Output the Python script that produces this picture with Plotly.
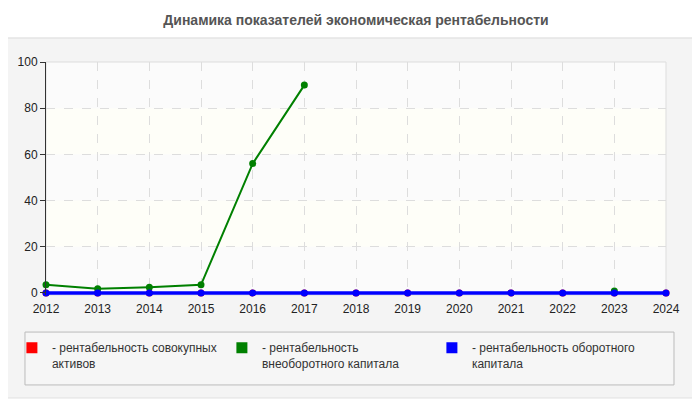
import plotly.graph_objects as go

years = [2012, 2013, 2014, 2015, 2016, 2017, 2018, 2019, 2020, 2021, 2022, 2023, 2024]
total_assets = [0, 0, 0, 0, 0, 0, 0, 0, 0, 0, 0, 0, 0]
noncurrent_capital = [3.5, 1.8, 2.5, 3.5, 56, 90, None, None, None, None, None, 0.8, None]
current_capital = [0, 0, 0, 0, 0, 0, 0, 0, 0, 0, 0, 0, 0]

names = ["- рентабельность совокупных<br>активов",
         "- рентабельность<br>внеоборотного капитала",
         "- рентабельность оборотного<br>капитала"]
colors = ["#ff0000", "#008000", "#0000ff"]
y_ticks = [0, 20, 40, 60, 80, 100]

fig = go.Figure()
series = [total_assets, noncurrent_capital, current_capital]
widths = [2, 2, 3.5]
for vals, col, w in zip(series, colors, widths):
    fig.add_trace(go.Scatter(x=years, y=vals, mode="lines+markers",
                             line=dict(color=col, width=w),
                             marker=dict(color=col, size=7),
                             showlegend=False, connectgaps=False, cliponaxis=False))
for nm, col in zip(names, colors):
    fig.add_trace(go.Scatter(x=[None], y=[None], mode="markers", name=nm,
                             marker=dict(color=col, size=11, symbol="square")))

shapes = [
    dict(type="rect", xref="paper", yref="paper", x0=-0.071, x1=1.052, y0=-0.442, y1=1.103,
         fillcolor="#f4f4f4", line=dict(color="#e0e0e0", width=1), layer="below"),
    dict(type="rect", xref="paper", yref="paper", x0=-0.0339, x1=1.0129, y0=-0.386, y1=-0.159,
         fillcolor="#f6f6f6", line=dict(color="#bbbbbb", width=1), layer="below"),
    dict(type="rect", xref="paper", yref="paper", x0=0, x1=1, y0=0, y1=1,
         fillcolor="#fbfbfb", line=dict(width=0), layer="below"),
]
for lo, hi in zip(y_ticks[1::2], y_ticks[2::2]):
    shapes.append(dict(type="rect", xref="paper", yref="y", x0=0, x1=1, y0=lo, y1=hi,
                       fillcolor="#fefef8", line=dict(width=0), layer="below"))
shapes.append(dict(type="rect", xref="paper", yref="paper", x0=0, x1=1, y0=0, y1=1,
                   fillcolor="rgba(0,0,0,0)", line=dict(color="#dddddd", width=1), layer="below"))
shapes.append(dict(type="line", xref="paper", yref="paper", x0=-0.074, x1=1.054, y0=1.103, y1=1.103,
                   line=dict(color="#e6e6e6", width=1)))

fig.update_layout(
    width=700, height=400,
    margin=dict(l=38, r=42, t=54, b=113, autoexpand=False),
    paper_bgcolor="white",
    plot_bgcolor="#fbfbfb",
    font=dict(family="Liberation Sans, Arial, sans-serif", size=12, color="#333333"),
    title=dict(text="<b>Динамика показателей экономическая рентабельности</b>",
               x=0.5, xref="paper", xanchor="center", y=0.97, yanchor="middle",
               font=dict(size=14, color="#555555")),
    shapes=shapes,
    xaxis=dict(range=[2012, 2024], tickmode="array", tickvals=years,
               showgrid=True, gridcolor="#dddddd", griddash="dash", gridwidth=1,
               zeroline=False, showline=False, ticks="outside", ticklen=3,
               tickcolor="rgba(0,0,0,0)", tickfont=dict(size=12, color="#222222")),
    yaxis=dict(range=[-0.9, 100], tickmode="array", tickvals=y_ticks,
               showgrid=True, gridcolor="#dddddd", griddash="dash", gridwidth=1,
               zeroline=False, showline=True, linecolor="#333333", linewidth=1,
               ticks="outside", ticklen=5, tickcolor="#333333",
               tickfont=dict(size=12, color="#222222")),
    legend=dict(orientation="h", x=-0.055, y=-0.165, xanchor="left", yanchor="top",
                bgcolor="rgba(0,0,0,0)", borderwidth=0,
                entrywidth=165, font=dict(size=12, color="#333333"),
                valign="top", itemsizing="trace"),
)

fig.write_html("out.html")
